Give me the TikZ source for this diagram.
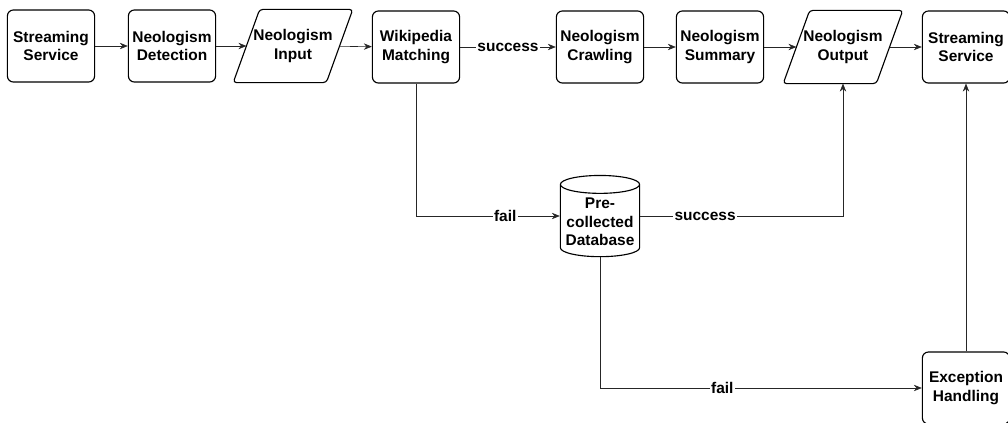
\documentclass[tikz,border=0pt]{standalone}
\usepackage{fontspec}
\setmainfont{Liberation Sans}
\usetikzlibrary{shapes.geometric,arrows.meta}

\begin{document}
\begin{tikzpicture}
[x=0.025cm,y=-0.025cm,
  boxDecorate/.style={shape=rectangle,rounded corners=0.15cm,draw,thick,
    minimum width=2.18cm,minimum height=1.8cm,align=center,inner sep=1pt,
    font=\fontsize{11}{13}\selectfont\bfseries},
  ioDecorate/.style={boxDecorate,draw=none,minimum width=2.3cm},
  ioBorder/.style={thick,rounded corners=0.08cm},
  dbDecorate/.style={boxDecorate,shape=cylinder,shape border rotate=90,
    aspect=0.25,minimum width=1.98cm,minimum height=2.03cm,rounded corners=0pt},
  lineDecorate/.style={-{Stealth[length=2mm,width=1.6mm]},draw=black!85},
  labelDecorate/.style={fill=white,inner sep=1pt,font=\fontsize{11}{13}\selectfont\bfseries}]
\useasboundingbox (0,0) rectangle (1008,422);
%% process boxes
\foreach \nodename/\x/\y/\text in {
  stream/51/46/{Streaming\\Service}, detect/172/46/{Neologism\\Detection},
  wiki/416/47/{Wikipedia\\Matching}, crawl/600/47/{Neologism\\Crawling},
  summary/720/47/{Neologism\\Summary}, streamout/966/47/{Streaming\\Service},
  exception/966/388/{Exception\\Handling}}
{
  \node (\nodename) at (\x,\y) [boxDecorate] {\text};
}
%% input and output (parallelograms)
\node (input) at (293,46) [ioDecorate] {Neologism\\Input};
\node (output) at (843,47) [ioDecorate] {Neologism\\Output};
\foreach \io in {input,output}
{
  \draw[ioBorder] ([xshift=0.33cm]\io.north west) -- ([xshift=0.33cm]\io.north east)
    -- ([xshift=-0.33cm]\io.south east) -- ([xshift=-0.33cm]\io.south west) -- cycle;
}
%% database
\node (database) at (600,222) [dbDecorate] {Pre-\\collected\\Database};
%% edges or lines
\path
\foreach \startnode/\endnode in {stream/detect, detect/input, input/wiki,
  crawl/summary, summary/output, output/streamout, exception/streamout}
{
  (\startnode) edge[lineDecorate] (\endnode)
};
\draw[lineDecorate] (wiki) -- node[labelDecorate] {success} (crawl);
\draw[lineDecorate] (wiki) |- node[labelDecorate,pos=0.81] {fail} ([yshift=0.15cm]database.west);
\draw[lineDecorate] ([yshift=0.15cm]database.east) -| node[labelDecorate,pos=0.16] {success} (output);
\draw[lineDecorate] (database) |- node[labelDecorate,pos=0.69] {fail} (exception);
\end{tikzpicture}
\end{document}
